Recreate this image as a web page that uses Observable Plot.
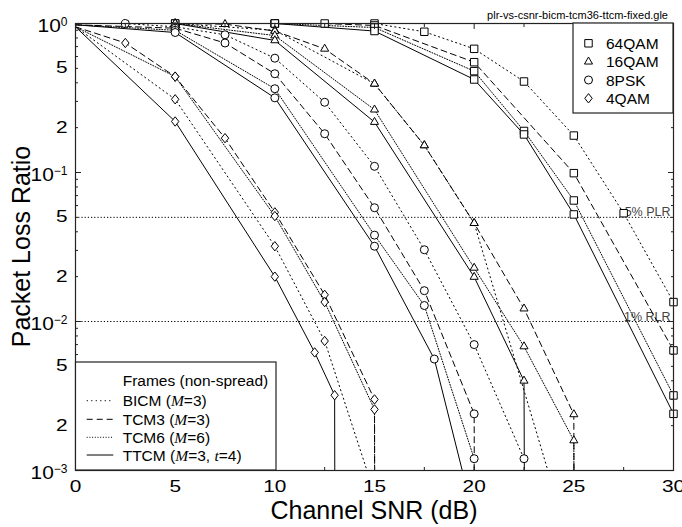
<!DOCTYPE html>
<html><head><meta charset="utf-8">
<script src="https://cdn.jsdelivr.net/npm/d3@7"></script>
<script src="https://cdn.jsdelivr.net/npm/@observablehq/plot@0.6"></script>
<style>body{margin:0;background:#fff} svg{display:block}</style>
</head><body>
<script>
// ---- data (SNR dB, packet loss ratio) ----
const modulations = ["64QAM", "16QAM", "8PSK", "4QAM"];
const schemes = ["BICM", "TCM3", "TCM6", "TTCM"];

const bicm4QAM = [[0,0.95],[5,0.31],[10,0.032],[12.5,0.0074],[15,0.0007]];
const tcm3_4QAM = [[0,0.95],[2.5,0.74],[5,0.44],[7.5,0.17],[10,0.054],[12.5,0.0151],[15,0.0030],[15.05,1e-6]];
const tcm6_4QAM = [[0,0.95],[5,0.44],[10,0.051],[12.5,0.0135],[15,0.00257],[15.05,1e-6]];
const ttcm4QAM = [[0,0.95],[5,0.22],[10,0.020],[12,0.0062],[13,0.0032],[13.05,1e-6]];

const bicm8PSK = [[0,1.0],[2.5,1.0],[5,0.95],[7.5,0.84],[10,0.585],[12.5,0.296],[15,0.110],[17.5,0.0303],[20,0.0070],[22.5,0.0012]];
const tcm3_8PSK = [[0,0.98],[5,0.93],[7.5,0.74],[10,0.46],[12.5,0.182],[15,0.058],[17.5,0.0161],[20,0.0024],[20.05,1e-6]];
const tcm6_8PSK = [[0,0.98],[5,0.90],[10,0.365],[15,0.038],[17.5,0.0128],[20,0.0012],[20.05,1e-6]];
const ttcm8PSK = [[0,0.98],[5,0.87],[10,0.317],[15,0.032],[18,0.0056],[20,0.00048]];

const bicm16QAM = [[0,1],[5,1],[10,0.90],[15,0.394],[17.5,0.152],[20,0.0457],[25,0.00026]];
const tcm3_16QAM = [[0,1],[5,1],[7.5,0.99],[10,0.89],[12.5,0.676],[15,0.394],[17.5,0.152],[20,0.0457],[22.5,0.0122],[25,0.00238],[25.05,1e-6]];
const tcm6_16QAM = [[0,1],[5,1],[10,0.83],[15,0.264],[20,0.0229],[22.5,0.0068],[25,0.00159],[25.05,1e-6]];
const ttcm16QAM = [[0,1],[5,1],[10,0.77],[15,0.218],[20,0.0199],[22.5,0.0040],[22.6,1e-6]];

const bicm64QAM = [[0,1],[5,1],[10,1],[15,1.0],[17.5,0.88],[20,0.676],[22.5,0.408],[25,0.177],[27.5,0.0533],[30,0.0135]];
const tcm3_64QAM = [[0,1],[5,1],[10,1],[12.5,1],[15,0.97],[20,0.55],[25,0.099],[30,0.0064]];
const tcm6_64QAM = [[0,1],[10,1],[15,0.94],[20,0.479],[22.5,0.19],[25,0.0649],[30,0.00319]];
const ttcm64QAM = [[0,1],[10,1],[15,0.89],[20,0.421],[22.5,0.180],[25,0.0523],[30,0.0024]];

const plrLevels = [0.05, 0.01];
const plrLabels = ["5% PLR", "1% RLR"];
const xMajorTicks = [0, 5, 10, 15, 20, 25, 30];
const xMinorTicks = [2.5, 7.5, 12.5, 17.5, 22.5, 27.5];
const yMajorTicks = [1, 0.1, 0.01, 0.001];
const yLabeledMinor = [0.5, 0.2, 0.05, 0.02, 0.005, 0.002];
const titleText = "plr-vs-csnr-bicm-tcm36-ttcm-fixed.gle";

// ---- build table ----
const seriesList = [
  ["4QAM","BICM",bicm4QAM],["4QAM","TCM3",tcm3_4QAM],["4QAM","TCM6",tcm6_4QAM],["4QAM","TTCM",ttcm4QAM],
  ["8PSK","BICM",bicm8PSK],["8PSK","TCM3",tcm3_8PSK],["8PSK","TCM6",tcm6_8PSK],["8PSK","TTCM",ttcm8PSK],
  ["16QAM","BICM",bicm16QAM],["16QAM","TCM3",tcm3_16QAM],["16QAM","TCM6",tcm6_16QAM],["16QAM","TTCM",ttcm16QAM],
  ["64QAM","BICM",bicm64QAM],["64QAM","TCM3",tcm3_64QAM],["64QAM","TCM6",tcm6_64QAM],["64QAM","TTCM",ttcm64QAM]
];
const rows = seriesList.flatMap(([mod, scheme, pts]) =>
  pts.map(([snr, plr]) => ({mod, scheme, key: mod + "-" + scheme, snr, plr})));

const yMinorTicks = [];
for (const d of [0.001, 0.01, 0.1]) for (let k = 2; k <= 9; k++) yMinorTicks.push(+(k * d).toPrecision(3));

const dash = {BICM: "1.2,3.3", TCM3: "6,4", TCM6: "1,1.7", TTCM: null};

const diamondSym = {
  draw(ctx, size) {
    const s = Math.sqrt(size / Math.PI);
    ctx.moveTo(0, -s * 1.2); ctx.lineTo(s * 0.95, 0); ctx.lineTo(0, s * 1.2); ctx.lineTo(-s * 0.95, 0); ctx.closePath();
  }
};
const symbolOf = {"64QAM": "square", "16QAM": "triangle", "8PSK": "circle", "4QAM": diamondSym};
const radiusOf = {"64QAM": 4.2, "16QAM": 3.0, "8PSK": 4.0, "4QAM": 3.9};

const font = "'Liberation Sans', Arial, Helvetica, sans-serif";
const minorFmt = d => String(Math.round(d / Math.pow(10, Math.floor(Math.log10(d) + 1e-9))));
const majorFmt = d => "10^" + String(Math.round(Math.log10(d))).replace("-", "\u2212");

const svgNode = Plot.plot({
  width: 682, height: 527,
  marginLeft: 75, marginRight: 9, marginTop: 23, marginBottom: 57,
  style: {fontFamily: font, background: "white", color: "black"},
  x: {domain: [0, 30], label: null, axis: null},
  y: {type: "log", domain: [0.001, 1], label: null, axis: null},
  marks: [
    Plot.ruleY(plrLevels, {stroke: "black", strokeWidth: 1, strokeDasharray: "1.2,2"}),
    Plot.text(plrLevels, {y: d => d, text: (d, i) => plrLabels[i], frameAnchor: "right", textAnchor: "end",
      lineAnchor: "bottom", dx: -3, dy: -1, fontSize: 12.5, fill: "#444"}),
    ...schemes.map(sc => Plot.line(rows.filter(r => r.scheme === sc), {
      x: "snr", y: "plr", z: "key", stroke: "black", strokeWidth: 1,
      strokeDasharray: dash[sc] || undefined, clip: true, curve: "linear"})),
    ...modulations.map(m => Plot.dot(rows.filter(r => r.mod === m && r.snr > 0 && r.plr >= 0.001), {
      x: "snr", y: "plr", symbol: symbolOf[m], r: radiusOf[m], fill: "white", stroke: "black", strokeWidth: 1})),
    Plot.frame({stroke: "#222", strokeWidth: 1.2}),
    // inward tick marks
    Plot.axisY(yMinorTicks, {anchor: "left", tickSize: -3, tickFormat: () => "", stroke: "#222"}),
    Plot.axisY(yMajorTicks, {anchor: "left", tickSize: -6, tickFormat: () => "", stroke: "#222"}),
    Plot.axisY(yMinorTicks, {anchor: "right", tickSize: -3, tickFormat: () => "", stroke: "#222"}),
    Plot.axisY(yMajorTicks, {anchor: "right", tickSize: -6, tickFormat: () => "", stroke: "#222"}),
    Plot.axisX(xMinorTicks, {anchor: "bottom", tickSize: -3, tickFormat: () => "", stroke: "#222"}),
    Plot.axisX(xMajorTicks, {anchor: "bottom", tickSize: -5, tickFormat: () => "", stroke: "#222"}),
    Plot.axisX(xMinorTicks, {anchor: "top", tickSize: -3, tickFormat: () => "", stroke: "#222"}),
    Plot.axisX(xMajorTicks, {anchor: "top", tickSize: -5, tickFormat: () => "", stroke: "#222"}),
    // tick labels
    Plot.text(yLabeledMinor, {y: d => d, text: minorFmt, frameAnchor: "left", textAnchor: "end", dx: -8, fontSize: 16, fill: "black"}),
    Plot.text(yMajorTicks, {y: d => d, text: majorFmt, frameAnchor: "left", textAnchor: "end", dx: -8, dy: 2, fontSize: 19, fill: "black"}),
    Plot.axisX(xMajorTicks, {anchor: "bottom", tickSize: 0, tickPadding: 10, fontSize: 16, tickFormat: d => String(d)})
  ]
});
document.body.appendChild(svgNode);

// superscripts and stretched tick digits
const ns = "http://www.w3.org/2000/svg";
svgNode.querySelectorAll("text").forEach(t => {
  const txt = t.textContent;
  if (txt.includes("^")) {
    const [b, e] = txt.split("^");
    t.textContent = "";
    const tb = document.createElementNS(ns, "tspan"); tb.textContent = b; t.appendChild(tb);
    const te = document.createElementNS(ns, "tspan"); te.textContent = e;
    te.setAttribute("dy", "-0.5em"); te.setAttribute("font-size", "12"); t.appendChild(te);
    const L = tb.getComputedTextLength(); tb.setAttribute("textLength", L * 1.1); tb.setAttribute("lengthAdjust", "spacingAndGlyphs");
  } else if (/^\d+$/.test(txt)) {
    const L = t.getComputedTextLength();
    t.setAttribute("textLength", L * 1.3); t.setAttribute("lengthAdjust", "spacingAndGlyphs");
  }
});

// titles and legends
const svg = d3.select(svgNode);
const ann = svg.append("g").attr("font-family", font).attr("fill", "black").attr("text-anchor", "start");
ann.append("text").attr("x", 668).attr("y", 19).attr("text-anchor", "end").attr("font-size", 11).text(titleText);
ann.append("text").attr("x", 374).attr("y", 518.5).attr("text-anchor", "middle").attr("font-size", 25).text("Channel SNR (dB)");
ann.append("text").attr("transform", "translate(30,246.5) rotate(-90)").attr("text-anchor", "middle").attr("font-size", 25).text("Packet Loss Ratio");

// modulation legend (top right)
const lg1 = ann.append("g");
lg1.append("rect").attr("x", 573).attr("y", 23).attr("width", 100).attr("height", 90).attr("fill", "white").attr("stroke", "#222").attr("stroke-width", 1.2);
const legSyms = {"64QAM": d3.symbolSquare, "16QAM": d3.symbolTriangle, "8PSK": d3.symbolCircle, "4QAM": diamondSym};
const legY = [43.3, 61.7, 80, 98.3];
modulations.forEach((m, i) => {
  const r = radiusOf[m];
  lg1.append("path").attr("transform", `translate(588.5,${legY[i]})`)
    .attr("d", d3.symbol(legSyms[m], Math.PI * r * r)()).attr("fill", "white").attr("stroke", "black");
  lg1.append("text").attr("x", 606).attr("y", legY[i] + 5.5).attr("text-anchor", "start").attr("font-size", 15.5).text(m);
});

// scheme legend (bottom left)
const lg2 = ann.append("g");
lg2.append("rect").attr("x", 75.5).attr("y", 362).attr("width", 200.5).attr("height", 108).attr("fill", "white").attr("stroke", "#222").attr("stroke-width", 1.2);
lg2.append("text").attr("x", 122.7).attr("y", 386).attr("text-anchor", "start").attr("font-size", 15.5).text("Frames (non-spread)");
const legRows = [
  {sc: "BICM", parts: [["BICM (", 0], ["M", 1], ["=3)", 0]]},
  {sc: "TCM3", parts: [["TCM3 (", 0], ["M", 1], ["=3)", 0]]},
  {sc: "TCM6", parts: [["TCM6 (", 0], ["M", 1], ["=6)", 0]]},
  {sc: "TTCM", parts: [["TTCM (", 0], ["M", 1], ["=3, ", 0], ["t", 1], ["=4)", 0]]}
];
const rowY = [400.7, 419.3, 437.3, 455];
legRows.forEach((row, i) => {
  lg2.append("line").attr("x1", 86.7).attr("x2", 113.3).attr("y1", rowY[i]).attr("y2", rowY[i])
    .attr("stroke", "black").attr("stroke-width", 1).attr("stroke-dasharray", dash[row.sc]);
  const t = lg2.append("text").attr("x", 122.7).attr("y", rowY[i] + 5.5).attr("text-anchor", "start").attr("font-size", 15.5);
  row.parts.forEach(([s, it]) => {
    const sp = t.append("tspan").text(s);
    if (it) sp.attr("font-family", "'Liberation Serif', 'Times New Roman', serif").attr("font-style", "italic");
  });
});
</script>
</body></html>
